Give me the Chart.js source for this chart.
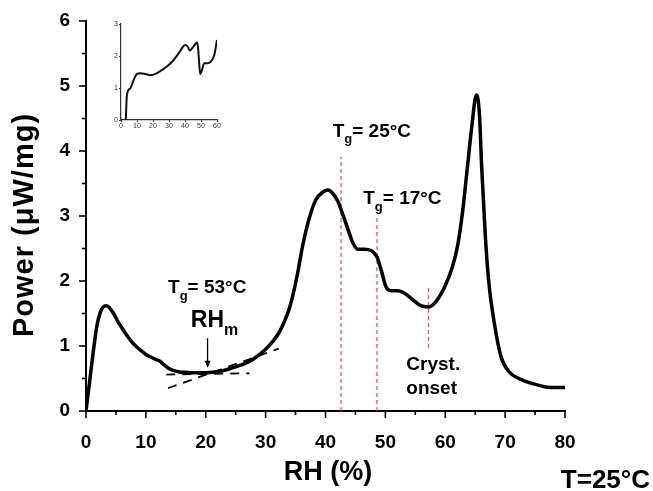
<!DOCTYPE html>
<html>
<head>
<meta charset="utf-8">
<script src="https://cdn.jsdelivr.net/npm/chart.js@4.4.1/dist/chart.umd.min.js"></script>
<style>
  body { margin: 0; background: #fff; }
  #wrap { position: relative; width: 653px; height: 491px; }
  #main { position: absolute; left: 0; top: 0; }
  #inset { position: absolute; left: 100px; top: 10px; }
</style>
</head>
<body>
<div id="wrap">
  <canvas id="main" width="653" height="491"></canvas>
  <canvas id="inset" width="130" height="125"></canvas>
</div>
<script>
// main curve
const rh = [0, 0.6, 1.2, 1.8, 2.4, 3.0, 3.5, 4.0, 4.6, 5.3, 6.0, 6.7, 7.5, 8.3, 9.2, 10.0, 10.8, 11.7,
  12.3, 12.9, 13.9, 14.7, 15.6, 16.7, 17.8, 20.0, 21.5, 22.8, 24.0, 25.0, 26.5, 27.8, 29.0, 30.0, 31.2, 32.2,
  33.1, 33.9, 34.6, 35.3, 36.2, 37.3, 38.4, 39.6, 40.4, 41.2, 42.1, 42.9, 43.7, 44.6, 45.4, 46.5, 47.6, 48.6,
  49.3, 50.1, 50.9, 52.1, 53.2, 54.6, 55.9, 57.2, 58.4, 59.8, 61.2, 62.1, 62.9, 63.7, 64.4, 65.2, 65.7, 66.1,
  66.7, 67.3, 68.2, 69.3, 70.7, 72.3, 74.6, 76.8, 78.5, 80];
const power = [0, 0.45, 0.9, 1.3, 1.52, 1.61, 1.62, 1.58, 1.5, 1.38, 1.28, 1.18, 1.08, 1.0, 0.93, 0.87, 0.83, 0.79,
  0.77, 0.72, 0.65, 0.62, 0.6, 0.595, 0.59, 0.59, 0.6, 0.62, 0.65, 0.68, 0.73, 0.79, 0.87, 0.95, 1.07, 1.2,
  1.37, 1.56, 1.8, 2.1, 2.55, 2.97, 3.25, 3.37, 3.40, 3.35, 3.22, 3.02, 2.81, 2.58, 2.49, 2.49, 2.47, 2.37,
  2.17, 1.91, 1.85, 1.85, 1.81, 1.71, 1.62, 1.60, 1.68, 1.89, 2.22, 2.56, 3.07, 3.75, 4.35, 4.86, 4.58, 3.72,
  2.68, 1.96, 1.35, 0.84, 0.60, 0.50, 0.42, 0.37, 0.36, 0.36];

// inset curve
const insetRh = [3.0, 3.7, 5.8, 7.9, 10, 12, 15.2, 18.3, 21.5, 24.6, 28.7, 32.9, 36, 38.75, 40.2, 41.7, 42.9,
  44.4, 46, 47.5, 48.1, 49.2, 49.6, 50.6, 52, 54.2, 56.9, 58.3, 60];
const insetPower = [0, 0.78, 0.99, 1.25, 1.44, 1.46, 1.44, 1.4, 1.44, 1.53, 1.67, 1.875, 2.08, 2.29, 2.34, 2.29, 2.17,
  2.24, 2.34, 2.42, 2.29, 1.56, 1.44, 1.56, 1.77, 1.77, 1.875, 2.03, 2.5];

const xTicks = [0, 10, 20, 30, 40, 50, 60, 70, 80];
const yTicks = [0, 1, 2, 3, 4, 5, 6];
const insetXTicks = [0, 10, 20, 30, 40, 50, 60];
const insetYTicks = [0, 1, 2, 3];

// red dashed Tg / crystallisation markers
const markerRh = [42.6, 48.6, 57.2];
const markerFrom = [0, 0, 0.97];
const markerTo = [3.91, 2.99, 1.94];

// tangent lines around RHm
const tangentRh = [[13.7, 32.2], [13.4, 27.3]];
const tangentPower = [[0.35, 0.96], [0.56, 0.58]];

// RHm arrow
const arrowRh = [20.3, 20.3];
const arrowPower = [1.12, 0.68];

const FONT = "'Liberation Sans', Arial, sans-serif";

const toPts = (xs, ys) => xs.map((x, i) => ({ x: x, y: ys[i] }));

const datasets = [{
  data: toPts(rh, power),
  borderColor: '#000',
  borderWidth: 3.5,
  pointRadius: 0,
  cubicInterpolationMode: 'monotone',
  order: 0
}];
markerRh.forEach((x, i) => {
  datasets.push({
    data: toPts([x, x], [markerFrom[i], markerTo[i]]),
    borderColor: '#e0566a',
    borderWidth: 1.3,
    borderDash: [4, 3],
    pointRadius: 0,
    order: 2
  });
});
tangentRh.forEach((xs, i) => {
  datasets.push({
    data: toPts(xs, tangentPower[i]),
    borderColor: '#000',
    borderWidth: 1.8,
    borderDash: [9, 7],
    pointRadius: 0,
    order: 2
  });
});
datasets.push({
  data: toPts(arrowRh, arrowPower),
  borderColor: '#000',
  borderWidth: 1.3,
  pointRadius: 0,
  order: 1
});

// draw text with a subscript, e.g. T_g = 53°C
function subText(ctx, x, y, main, sub, rest, size) {
  ctx.font = `bold ${size}px ${FONT}`;
  ctx.fillText(main, x, y);
  const w = ctx.measureText(main).width;
  ctx.font = `bold ${Math.round(size * 0.68)}px ${FONT}`;
  ctx.fillText(sub, x + w, y + size * 0.35);
  const ws = ctx.measureText(sub).width;
  ctx.font = `bold ${size}px ${FONT}`;
  ctx.fillText(rest, x + w + ws, y);
}

const decorations = {
  id: 'decorations',
  afterDraw(chart) {
    const ctx = chart.ctx;
    const xs = chart.scales.x, ys = chart.scales.y;
    const px = v => xs.getPixelForValue(v);
    const py = v => ys.getPixelForValue(v);
    ctx.save();
    ctx.strokeStyle = '#000';
    ctx.lineWidth = 1.6;
    // minor and major tick marks
    for (let v = 0; v <= 80; v += 5) {
      const len = v % 10 === 0 ? 7 : 4;
      ctx.beginPath();
      ctx.moveTo(px(v), ys.bottom);
      ctx.lineTo(px(v), ys.bottom + len);
      ctx.stroke();
    }
    for (let v = 0; v <= 6; v += 0.5) {
      const len = v % 1 === 0 ? 7 : 4;
      ctx.beginPath();
      ctx.moveTo(xs.left, py(v));
      ctx.lineTo(xs.left - len, py(v));
      ctx.stroke();
    }
    // arrow head of RHm
    const ax = px(arrowRh[1]), ay = py(arrowPower[1]);
    ctx.fillStyle = '#000';
    ctx.beginPath();
    ctx.moveTo(ax, ay + 1);
    ctx.lineTo(ax - 3, ay - 6);
    ctx.lineTo(ax + 3, ay - 6);
    ctx.closePath();
    ctx.fill();

    ctx.fillStyle = '#000';
    ctx.textAlign = 'left';
    ctx.textBaseline = 'alphabetic';
    subText(ctx, px(13.7), py(1.815), 'T', 'g', '= 53°C', 19);
    subText(ctx, px(41.2), py(4.22), 'T', 'g', '= 25°C', 19);
    subText(ctx, px(46.3), py(3.18), 'T', 'g', '= 17°C', 19);
    subText(ctx, px(17.5), py(1.29), 'RH', 'm', '', 23);
    ctx.font = `bold 19px ${FONT}`;
    ctx.fillText('Cryst.', px(53.5), py(0.63));
    ctx.fillText('onset', px(53.5), py(0.26));

    // axis titles
    ctx.font = `bold 27px ${FONT}`;
    ctx.textAlign = 'center';
    ctx.textBaseline = 'middle';
    ctx.fillText('RH (%)', 328, 473);
    ctx.save();
    ctx.translate(25, 225);
    ctx.rotate(-Math.PI / 2);
    ctx.font = `bold 29px ${FONT}`;
    ctx.letterSpacing = '1px';
    ctx.fillText('Power (\u03bcW/mg)', 0, 0);
    ctx.restore();
    ctx.font = `bold 26px ${FONT}`;
    ctx.textAlign = 'right';
    ctx.textBaseline = 'alphabetic';
    ctx.fillText('T=25°C', 650, 488);
    ctx.restore();
  }
};

new Chart(document.getElementById('main'), {
  type: 'line',
  data: { datasets: datasets },
  options: {
    responsive: false,
    animation: false,
    devicePixelRatio: 1,
    layout: { padding: { left: 0, top: 21, right: 88, bottom: 0 } },
    plugins: { legend: { display: false }, tooltip: { enabled: false } },
    scales: {
      x: {
        type: 'linear', min: 0, max: 80,
        afterBuildTicks: s => { s.ticks = xTicks.map(v => ({ value: v })); },
        afterFit: s => { s.height = 80; s.paddingLeft = 0; s.paddingRight = 0; },
        grid: { display: false },
        border: { color: '#000', width: 2 },
        ticks: { color: '#000', padding: 12, font: { family: FONT, size: 19, weight: 'bold' } }
      },
      y: {
        type: 'linear', min: 0, max: 6,
        afterBuildTicks: s => { s.ticks = yTicks.map(v => ({ value: v })); },
        afterFit: s => { s.width = 86; s.paddingTop = 0; s.paddingBottom = 0; },
        grid: { display: false },
        border: { color: '#000', width: 2 },
        ticks: { color: '#000', padding: 8, font: { family: FONT, size: 19, weight: 'bold' } }
      }
    }
  },
  plugins: [decorations]
});

// inset
new Chart(document.getElementById('inset'), {
  type: 'line',
  data: {
    datasets: [{
      data: toPts(insetRh, insetPower),
      borderColor: '#111',
      borderWidth: 2,
      pointRadius: 0,
      cubicInterpolationMode: 'monotone'
    }]
  },
  options: {
    responsive: false,
    animation: false,
    devicePixelRatio: 1,
    layout: { padding: { left: 0, top: 14, right: 13, bottom: 0 } },
    plugins: { legend: { display: false }, tooltip: { enabled: false } },
    scales: {
      x: {
        type: 'linear', min: 0, max: 60,
        afterBuildTicks: s => { s.ticks = insetXTicks.map(v => ({ value: v })); },
        afterFit: s => { s.height = 15; s.paddingLeft = 0; s.paddingRight = 0; },
        grid: { drawOnChartArea: false, tickLength: 2, color: '#333' },
        border: { color: '#333', width: 1.2 },
        ticks: { color: '#333', padding: 0, font: { family: FONT, size: 7 } }
      },
      y: {
        type: 'linear', min: 0, max: 3,
        afterBuildTicks: s => { s.ticks = insetYTicks.map(v => ({ value: v })); },
        afterFit: s => { s.width = 21; s.paddingTop = 0; s.paddingBottom = 0; },
        grid: { drawOnChartArea: false, tickLength: 2, color: '#333' },
        border: { color: '#333', width: 1.2 },
        ticks: { color: '#333', padding: 1, font: { family: FONT, size: 7 } }
      }
    }
  }
});
</script>
</body>
</html>
